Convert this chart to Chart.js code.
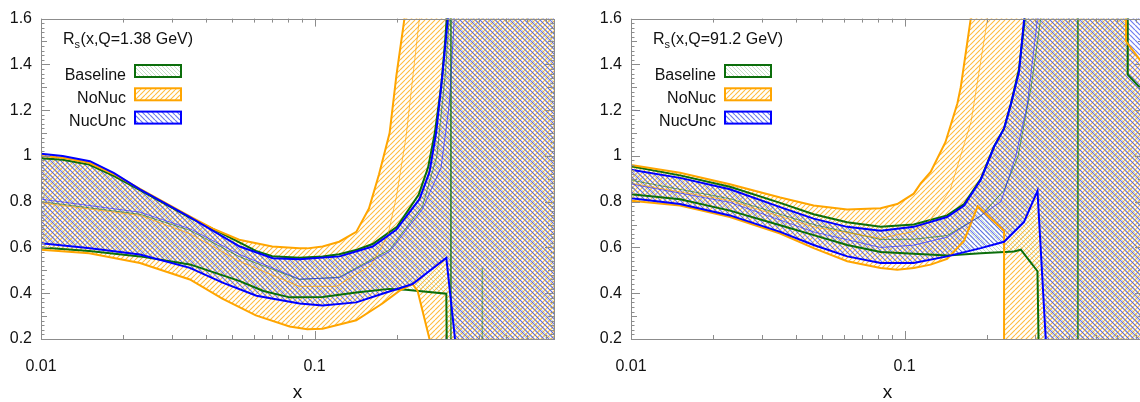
<!DOCTYPE html>
<html>
<head>
<meta charset="utf-8">
<title>R_s(x,Q) ratio bands</title>
<script src="https://cdn.jsdelivr.net/npm/chart.js@4.4.1/dist/chart.umd.min.js"></script>
<style>
  html, body { margin: 0; padding: 0; background: #fff; overflow: hidden; }
  #wrap { position: relative; width: 1140px; height: 402px; overflow: hidden; }
  #wrap canvas { position: absolute; top: 0; }
  #cLow { left: 0; }
  #cHigh { left: 590px; }
</style>
</head>
<body>
<div id="wrap">
  <canvas id="cLow" width="580" height="402"></canvas>
  <canvas id="cHigh" width="570" height="402"></canvas>
</div>
<script>
// ---- data: [x, R_s] pairs ----
// values of 2.0 / 0.0 mean the band runs off the top / bottom of the frame
const X_TICKS = [0.01, 0.1];
const Y_TICKS = [0.2, 0.4, 0.6, 0.8, 1.0, 1.2, 1.4, 1.6];
const LEGEND_LABELS = ['Baseline', 'NoNuc', 'NucUnc'];

// Q = 1.38 GeV
const lowQ_baseUp = [[0.01,0.99],[0.012,0.983],[0.015,0.962],[0.0185,0.912],[0.023,0.85],[0.035,0.73],[0.046,0.66],[0.061,0.585],[0.07,0.562],[0.088,0.555],[0.107,0.56],[0.123,0.57],[0.143,0.59],[0.163,0.615],[0.2,0.69],[0.24,0.83],[0.26,0.95],[0.275,1.1],[0.29,1.3],[0.3,1.5],[0.308,1.7],[0.315,2.0],[1.0,2.0]];
const lowQ_baseLo = [[0.01,0.6],[0.015,0.585],[0.023,0.561],[0.035,0.526],[0.053,0.454],[0.065,0.41],[0.081,0.382],[0.107,0.384],[0.142,0.403],[0.188,0.419],[0.216,0.415],[0.303,0.398],[0.305,0.0],[1.0,0.0]];
const lowQ_baseMid = [[0.01,0.8],[0.023,0.745],[0.035,0.675],[0.053,0.56],[0.088,0.46],[0.123,0.47],[0.188,0.59],[0.248,0.78],[0.28,1.0],[0.3,1.35],[0.315,1.7],[0.315,0.0],[0.41,0.0],[0.41,0.51]];

const lowQ_noNucUp = [[0.01,1.0],[0.012,0.992],[0.015,0.97],[0.0185,0.92],[0.023,0.856],[0.035,0.736],[0.0425,0.682],[0.053,0.634],[0.07,0.604],[0.088,0.597],[0.094,0.596],[0.107,0.604],[0.123,0.625],[0.142,0.668],[0.158,0.77],[0.172,0.92],[0.188,1.1],[0.199,1.35],[0.213,1.6],[0.22,2.0],[1.0,2.0]];
const lowQ_noNucLo = [[0.01,0.59],[0.015,0.575],[0.023,0.532],[0.035,0.46],[0.046,0.376],[0.061,0.303],[0.081,0.255],[0.094,0.243],[0.107,0.245],[0.142,0.282],[0.177,0.355],[0.204,0.41],[0.228,0.44],[0.238,0.41],[0.263,0.2],[0.266,0.0],[1.0,0.0]];
const lowQ_noNucMid = [[0.01,0.795],[0.023,0.74],[0.035,0.66],[0.053,0.54],[0.088,0.43],[0.12,0.43],[0.16,0.52],[0.185,0.65],[0.199,0.82],[0.216,1.085],[0.2416,1.6],[0.25,2.0]];

const lowQ_nucUncUp = [[0.01,1.01],[0.012,1.0],[0.0151,0.977],[0.0185,0.925],[0.023,0.854],[0.035,0.733],[0.0533,0.604],[0.0703,0.553],[0.0881,0.548],[0.1234,0.561],[0.163,0.604],[0.1987,0.677],[0.2416,0.811],[0.263,0.93],[0.278,1.1],[0.294,1.368],[0.307,1.6],[0.312,2.0],[1.0,2.0]];
const lowQ_nucUncLo = [[0.01,0.618],[0.0151,0.597],[0.023,0.569],[0.035,0.511],[0.0461,0.446],[0.0613,0.389],[0.0881,0.355],[0.107,0.346],[0.142,0.36],[0.177,0.398],[0.228,0.44],[0.303,0.554],[0.326,0.2],[0.33,0.0],[1.0,0.0]];
const lowQ_nucUncMid = [[0.01,0.811],[0.023,0.754],[0.035,0.682],[0.0533,0.569],[0.0881,0.462],[0.1234,0.468],[0.188,0.582],[0.248,0.768],[0.29,0.95],[0.311,1.23],[0.324,1.6],[0.33,2.0]];

// Q = 91.2 GeV
const highQ_baseUp = [[0.01,0.955],[0.0151,0.915],[0.023,0.865],[0.0351,0.795],[0.0465,0.745],[0.0617,0.71],[0.0817,0.69],[0.108,0.7],[0.143,0.74],[0.165,0.79],[0.19,0.9],[0.212,1.04],[0.231,1.12],[0.245,1.23],[0.262,1.38],[0.275,1.6],[0.28,2.0],[0.654,2.0],[0.654,1.355],[0.75,1.28],[1.0,1.2]];
const highQ_baseLo = [[0.01,0.833],[0.0151,0.811],[0.023,0.761],[0.0351,0.697],[0.0465,0.654],[0.0617,0.611],[0.0817,0.58],[0.108,0.572],[0.143,0.565],[0.19,0.575],[0.251,0.582],[0.266,0.59],[0.306,0.496],[0.3105,0.0],[1.0,0.0]];
const highQ_baseMid = [[0.01,0.894],[0.023,0.813],[0.0465,0.7],[0.0817,0.635],[0.108,0.636],[0.143,0.652],[0.19,0.737],[0.231,0.85],[0.26,1.0],[0.29,1.3],[0.35,2.0],[0.43,2.0],[0.43,0.0]];

const highQ_noNucUp = [[0.01,0.96],[0.0151,0.926],[0.023,0.876],[0.0351,0.818],[0.0465,0.783],[0.0617,0.766],[0.0817,0.771],[0.094,0.79],[0.108,0.835],[0.1145,0.88],[0.1245,0.93],[0.141,1.06],[0.156,1.23],[0.1604,1.3],[0.1745,1.6],[0.18,2.0],[0.645,2.0],[0.645,1.5],[1.0,1.2]];
const highQ_noNucLo = [[0.01,0.804],[0.0151,0.783],[0.023,0.733],[0.0351,0.661],[0.0465,0.597],[0.0617,0.54],[0.0817,0.51],[0.094,0.503],[0.108,0.51],[0.1245,0.525],[0.143,0.55],[0.165,0.63],[0.185,0.78],[0.231,0.672],[0.2325,0.0],[1.0,0.0]];
const highQ_noNucMid = [[0.01,0.88],[0.023,0.805],[0.0465,0.69],[0.0817,0.64],[0.108,0.67],[0.124,0.72],[0.147,0.854],[0.175,1.15],[0.201,1.6],[0.21,2.0]];

const highQ_nucUncUp = [[0.01,0.94],[0.0151,0.904],[0.023,0.854],[0.0351,0.776],[0.0465,0.726],[0.0617,0.69],[0.0817,0.673],[0.108,0.69],[0.143,0.733],[0.165,0.783],[0.19,0.897],[0.2124,1.04],[0.231,1.12],[0.2445,1.226],[0.262,1.368],[0.2736,1.6],[0.28,2.0],[1.0,2.0]];
const highQ_nucUncLo = [[0.01,0.815],[0.0151,0.79],[0.023,0.74],[0.0351,0.668],[0.0465,0.611],[0.0617,0.561],[0.0817,0.532],[0.108,0.532],[0.143,0.561],[0.19,0.597],[0.231,0.625],[0.273,0.711],[0.306,0.847],[0.328,0.2],[0.33,0.0],[1.0,0.0]];
const highQ_nucUncMid = [[0.01,0.877],[0.023,0.797],[0.0465,0.668],[0.0817,0.6],[0.108,0.61],[0.143,0.645],[0.19,0.74],[0.225,0.8],[0.255,1.0],[0.281,1.226],[0.306,1.6],[0.32,2.0]];

// ---- look ----
const FONT = '"Liberation Sans", Arial, Helvetica, sans-serif';
const GREEN = '#0b6e0b', ORANGE = '#ffa500', BLUE = '#0000ff';
const AXIS_GREY = '#8c8c8c';

const toXY = pts => pts.map(p => ({ x: p[0], y: p[1] }));
// closed band: upper edge left->right, then lower edge right->left
const bandShape = (up, lo) => toXY(up.concat(lo.slice().reverse()));

function hatch(ctx, color, gap, width, dir) {
  const c = document.createElement('canvas');
  c.width = gap; c.height = gap;
  const g = c.getContext('2d');
  g.strokeStyle = color;
  g.lineWidth = width;
  g.beginPath();
  for (let k = -1; k <= 1; k++) {
    if (dir > 0) { g.moveTo(k * gap, gap); g.lineTo(k * gap + gap, 0); }   // "/"
    else { g.moveTo(k * gap, 0); g.lineTo(k * gap + gap, gap); }           // "\"
  }
  g.stroke();
  return ctx.createPattern(c, 'repeat');
}

// frame with inward ticks on all four sides
const framePlugin = {
  id: 'frame',
  afterDatasetsDraw(chart) {
    const { ctx, chartArea: a, scales: { x, y } } = chart;
    ctx.save();
    ctx.strokeStyle = AXIS_GREY;
    ctx.lineWidth = 1;
    ctx.strokeRect(Math.round(a.left) + 0.5, Math.round(a.top) + 0.5, Math.round(a.right - a.left), Math.round(a.bottom - a.top));
    ctx.beginPath();
    for (let d = 0.01; d < 1; d *= 10) {
      for (let m = 1; m <= 9; m++) {
        const v = m * d;
        if (v < x.min || v > x.max) continue;
        const px = Math.round(x.getPixelForValue(v)) + 0.5;
        const len = m === 1 ? 8 : 4;
        ctx.moveTo(px, a.bottom); ctx.lineTo(px, a.bottom - len);
        ctx.moveTo(px, a.top); ctx.lineTo(px, a.top + len);
      }
    }
    for (let i = 10; i <= 80; i++) {
      const py = Math.round(y.getPixelForValue(i / 50)) + 0.5;
      const len = i % 10 === 0 ? 9 : (i % 5 === 0 ? 6 : 3.5);
      ctx.moveTo(a.left, py); ctx.lineTo(a.left + len, py);
      ctx.moveTo(a.right, py); ctx.lineTo(a.right - len, py);
    }
    ctx.stroke();
    ctx.restore();
  }
};

// R_s label and the hatched legend inside the frame
function labelPlugin(qText, pats) {
  return {
    id: 'labels',
    afterDraw(chart) {
      const { ctx, chartArea: a } = chart;
      ctx.save();
      ctx.fillStyle = '#111';
      ctx.textBaseline = 'alphabetic';
      ctx.textAlign = 'left';
      let tx = a.left + 22;
      ctx.font = '16px ' + FONT;
      ctx.fillText('R', tx, 44);
      tx += ctx.measureText('R').width;
      ctx.font = '11px ' + FONT;
      ctx.fillText('s', tx, 47.5);
      tx += ctx.measureText('s').width + 0.5;
      ctx.font = '16px ' + FONT;
      ctx.fillText('(x,Q=' + qText + ')', tx, 44);

      const colors = [GREEN, ORANGE, BLUE];
      LEGEND_LABELS.forEach((lab, i) => {
        const base = 79.5 + i * 23.3;
        ctx.font = '16px ' + FONT;
        ctx.textAlign = 'right';
        ctx.fillStyle = '#111';
        ctx.fillText(lab, a.left + 85, base);
        const bx = a.left + 94, by = base - 14.5, bw = 46, bh = 12;
        ctx.fillStyle = pats[i];
        ctx.fillRect(bx, by, bw, bh);
        ctx.strokeStyle = colors[i];
        ctx.lineWidth = 2;
        ctx.strokeRect(bx, by, bw, bh);
      });
      ctx.restore();
    }
  };
}

function makePanel(canvasId, padRight, qText, sets) {
  const canvas = document.getElementById(canvasId);
  const ctx = canvas.getContext('2d');
  const pats = [
    hatch(ctx, 'rgba(20,120,20,0.3)', 4, 0.8, -1),
    hatch(ctx, 'rgba(255,165,0,0.75)', 5, 1.1, 1),
    hatch(ctx, 'rgba(45,65,235,0.7)', 5, 1.2, -1)
  ];
  const colors = [GREEN, ORANGE, BLUE];
  const midColors = ['rgba(11,110,11,0.7)', 'rgba(255,165,0,0.85)', 'rgba(40,40,255,0.8)'];
  const datasets = [];
  sets.forEach((s, i) => {
    datasets.push({
      label: LEGEND_LABELS[i],
      data: bandShape(s.up, s.lo),
      borderColor: colors[i],
      borderWidth: 2,
      backgroundColor: pats[i],
      fill: 'shape',
      pointRadius: 0,
      tension: 0,
      order: 10 - 2 * i
    });
    datasets.push({
      label: LEGEND_LABELS[i] + ' central',
      data: toXY(s.mid),
      borderColor: midColors[i],
      borderWidth: 0.8,
      fill: false,
      pointRadius: 0,
      tension: 0,
      order: 9 - 2 * i
    });
  });

  return new Chart(canvas, {
    type: 'line',
    data: { datasets },
    options: {
      responsive: false,
      animation: false,
      devicePixelRatio: 1,
      layout: { padding: { left: 0, right: padRight, top: 13, bottom: 0 } },
      plugins: {
        legend: { display: false },
        tooltip: { enabled: false },
        filler: { drawTime: 'beforeDatasetsDraw' }
      },
      scales: {
        x: {
          type: 'logarithmic',
          min: 0.01,
          max: 0.75,
          grid: { display: false, drawTicks: false },
          border: { display: false },
          afterBuildTicks: sc => { sc.ticks = X_TICKS.map(v => ({ value: v })); },
          afterFit: sc => { sc.height = 63; },
          ticks: {
            autoSkip: false, maxRotation: 0, padding: 18, color: '#111',
            font: { size: 16, family: FONT },
            callback: v => String(v)
          },
          title: {
            display: true, text: 'x', color: '#111',
            font: { size: 19, family: FONT, lineHeight: 1 },
            padding: { top: 0, bottom: 0 }
          }
        },
        y: {
          min: 0.2,
          max: 1.6,
          grid: { display: false, drawTicks: false },
          border: { display: false },
          afterBuildTicks: sc => { sc.ticks = Y_TICKS.map(v => ({ value: v })); },
          afterFit: sc => { sc.width = 41; },
          ticks: {
            padding: 9, color: '#111',
            font: { size: 16, family: FONT },
            callback: v => String(+Number(v).toFixed(1))
          }
        }
      }
    },
    plugins: [framePlugin, labelPlugin(qText, pats)]
  });
}

makePanel('cLow', 26, '1.38 GeV', [
  { up: lowQ_baseUp, lo: lowQ_baseLo, mid: lowQ_baseMid },
  { up: lowQ_noNucUp, lo: lowQ_noNucLo, mid: lowQ_noNucMid },
  { up: lowQ_nucUncUp, lo: lowQ_nucUncLo, mid: lowQ_nucUncMid }
]);
makePanel('cHigh', 16, '91.2 GeV', [
  { up: highQ_baseUp, lo: highQ_baseLo, mid: highQ_baseMid },
  { up: highQ_noNucUp, lo: highQ_noNucLo, mid: highQ_noNucMid },
  { up: highQ_nucUncUp, lo: highQ_nucUncLo, mid: highQ_nucUncMid }
]);
</script>
</body>
</html>
